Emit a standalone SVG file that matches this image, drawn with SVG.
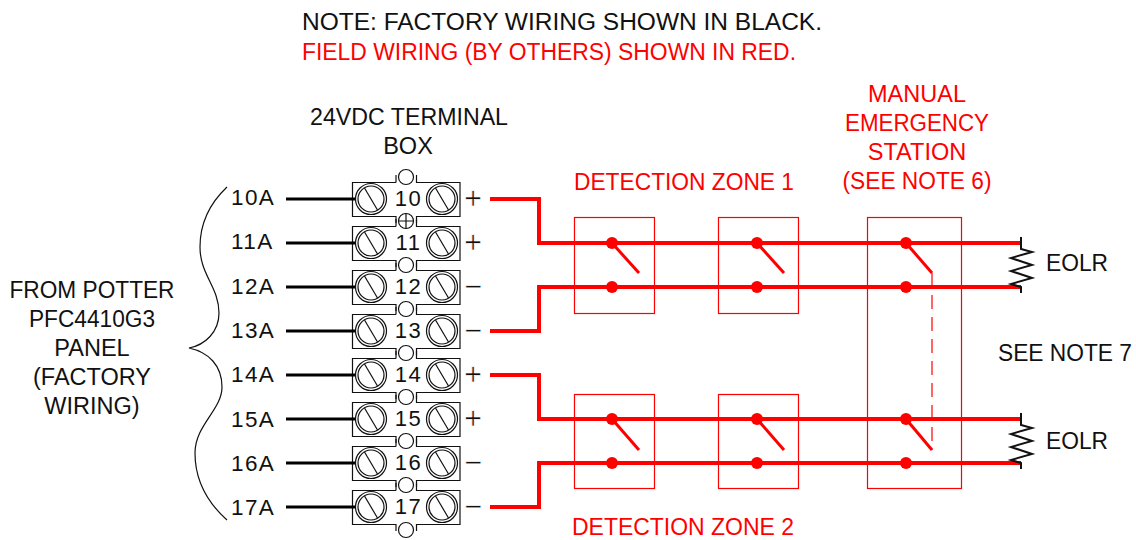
<svg xmlns="http://www.w3.org/2000/svg" width="1136" height="540" viewBox="0 0 1136 540">
<style>
text{font-family:"Liberation Sans",Arial,sans-serif;font-size:23.5px;fill:#111;text-anchor:middle}
.r{fill:#f00}
.s{text-anchor:start}
.n{font-size:22px;letter-spacing:1.5px}
.a{font-size:22.5px;letter-spacing:1.4px;text-anchor:start}
.p{font-size:31px;stroke:#fff;stroke-width:.7px}
.w{fill:none;stroke:#f00;stroke-width:4;stroke-linejoin:miter}
.f{fill:none;stroke:#f00;stroke-width:1.2}
.b{fill:none;stroke:#111;stroke-width:1.2}
.k{fill:none;stroke:#000;stroke-width:3}
.sw{fill:none;stroke:#f00;stroke-width:3}
.d{fill:#f00}
</style>
<defs>
<g id="term">
<path class="b" d="M396 -16.500V-24M416.500 -24V-16.500H460V17.500H416.500V24M396 24V17.500H352.500V-16.500H396"/>
<circle class="b" cx="371" cy="0" r="15.500"/><circle class="b" cx="371" cy="0" r="13"/><line class="b" x1="364.500" y1="-11" x2="377.500" y2="11"/>
<circle class="b" cx="442" cy="0" r="15.500"/><circle class="b" cx="442" cy="0" r="13"/><line class="b" x1="435.500" y1="-11" x2="448.500" y2="11"/>
</g>
</defs>
<g id="note">
<text class="s" x="302" y="30" textLength="520" lengthAdjust="spacingAndGlyphs">NOTE: FACTORY WIRING SHOWN IN BLACK.</text>
<text class="s r" x="302" y="60" textLength="494" lengthAdjust="spacingAndGlyphs">FIELD WIRING (BY OTHERS) SHOWN IN RED.</text>
</g>
<g id="terminal-title"><text x="409" y="125" textLength="198" lengthAdjust="spacingAndGlyphs">24VDC TERMINAL</text><text x="408" y="154">BOX</text></g>
<g id="from-panel">
<path class="b" d="M227 187C208 205 200 225 200 247C200 275 219 287 219 313C219 332 205 345 189 348C208 352 222 365 222 387C222 410 195 425 195 453C195 480 208 503 227 520"/>
<text x="92" y="298" textLength="165" lengthAdjust="spacingAndGlyphs">FROM POTTER</text><text x="92" y="327" textLength="126" lengthAdjust="spacingAndGlyphs">PFC4410G3</text><text x="92" y="356">PANEL</text><text x="92" y="385">(FACTORY</text><text x="92" y="414">WIRING)</text>
</g>
<g id="terminal-block">
<circle class="b" cx="406" cy="177" r="7.500"/>
<circle class="b" cx="406" cy="221" r="7.500"/><path class="b" d="M398.500 221H413.500M406 213.500V228.500"/>
<circle class="b" cx="406" cy="265" r="7.500"/><circle class="b" cx="406" cy="309" r="7.500"/><circle class="b" cx="406" cy="353" r="7.500"/><circle class="b" cx="406" cy="397" r="7.500"/><circle class="b" cx="406" cy="441" r="7.500"/><circle class="b" cx="406" cy="485" r="7.500"/><circle class="b" cx="406" cy="530" r="7.500"/>
<g id="t10"><use href="#term" y="199"/><text class="n" x="408.500" y="206">10</text><text class="a" x="231" y="205">10A</text><text class="p" x="473" y="209">+</text></g>
<g id="t11"><use href="#term" y="243"/><text class="n" x="408.500" y="250">11</text><text class="a" x="231" y="249">11A</text><text class="p" x="473" y="253">+</text></g>
<g id="t12"><use href="#term" y="287"/><text class="n" x="408.500" y="294">12</text><text class="a" x="231" y="293.500">12A</text><text class="p" x="473" y="297">−</text></g>
<g id="t13"><use href="#term" y="331"/><text class="n" x="408.500" y="338">13</text><text class="a" x="231" y="338">13A</text><text class="p" x="473" y="341">−</text></g>
<g id="t14"><use href="#term" y="375"/><text class="n" x="408.500" y="382">14</text><text class="a" x="231" y="382">14A</text><text class="p" x="473" y="385">+</text></g>
<g id="t15"><use href="#term" y="419"/><text class="n" x="408.500" y="426">15</text><text class="a" x="231" y="427">15A</text><text class="p" x="473" y="429">+</text></g>
<g id="t16"><use href="#term" y="463"/><text class="n" x="408.500" y="470">16</text><text class="a" x="231" y="470.500">16A</text><text class="p" x="473" y="473">−</text></g>
<g id="t17"><use href="#term" y="507"/><text class="n" x="408.500" y="514">17</text><text class="a" x="231" y="514.500">17A</text><text class="p" x="473" y="517">−</text></g>
</g>
<g id="connectors">
<path class="k" d="M286 199H355M286 243H355M286 287H355M286 331H355M286 375H355M286 419H355M286 463H355M286 507H355"/>
<path class="w" d="M490 199H539V243H1021M490 331H539V287H1021M490 375H539V419H1021M490 507H539V463H1021"/>
</g>
<g id="zone1"><rect class="f" x="574.500" y="217.500" width="80" height="96"/><circle class="d" cx="612" cy="243" r="6"/><circle class="d" cx="612" cy="287" r="6"/><line class="sw" x1="612" y1="243" x2="639" y2="273"/></g>
<g id="zone1b"><rect class="f" x="718.500" y="217.500" width="80" height="96"/><circle class="d" cx="757" cy="243" r="6"/><circle class="d" cx="757" cy="287" r="6"/><line class="sw" x1="757" y1="243" x2="784" y2="273"/></g>
<g id="zone2"><rect class="f" x="574.500" y="394.500" width="80" height="94"/><circle class="d" cx="612" cy="419" r="6"/><circle class="d" cx="612" cy="463" r="6"/><line class="sw" x1="612" y1="419" x2="639" y2="450"/></g>
<g id="zone2b"><rect class="f" x="718.500" y="394.500" width="80" height="94"/><circle class="d" cx="757" cy="419" r="6"/><circle class="d" cx="757" cy="463" r="6"/><line class="sw" x1="757" y1="419" x2="784" y2="450"/></g>
<g id="manual-station"><rect class="f" x="867.500" y="217.500" width="94" height="271"/><circle class="d" cx="906" cy="243" r="6"/><circle class="d" cx="906" cy="287" r="6"/><circle class="d" cx="906" cy="419" r="6"/><circle class="d" cx="906" cy="463" r="6"/><line class="sw" x1="906" y1="243" x2="932" y2="273"/><line class="sw" x1="906" y1="419" x2="932" y2="450"/><line class="f" x1="932" y1="273" x2="932" y2="450" stroke-dasharray="14 8"/></g>
<g id="eolr1"><path class="b" style="stroke-width:2" d="M1021 237V249L1032 252L1011 258L1032 265L1011 271L1032 278L1011 284L1021 287V293"/><text class="s" x="1046" y="271" textLength="62" lengthAdjust="spacingAndGlyphs">EOLR</text></g>
<g id="eolr2"><path class="b" style="stroke-width:2" d="M1021 413V425L1032 428L1011 434L1032 441L1011 447L1032 454L1011 460L1021 463V469"/><text class="s" x="1046" y="449" textLength="62" lengthAdjust="spacingAndGlyphs">EOLR</text></g>
<g id="labels">
<text class="r" x="684" y="190" textLength="220" lengthAdjust="spacingAndGlyphs">DETECTION ZONE 1</text>
<text class="r" x="683" y="535" textLength="222" lengthAdjust="spacingAndGlyphs">DETECTION ZONE 2</text>
<text class="r" x="917" y="102">MANUAL</text><text class="r" x="917" y="131" textLength="144" lengthAdjust="spacingAndGlyphs">EMERGENCY</text><text class="r" x="917" y="160">STATION</text><text class="r" x="917" y="189" textLength="149" lengthAdjust="spacingAndGlyphs">(SEE NOTE 6)</text>
<text x="1065" y="361" textLength="134" lengthAdjust="spacingAndGlyphs">SEE NOTE 7</text>
</g>
</svg>
